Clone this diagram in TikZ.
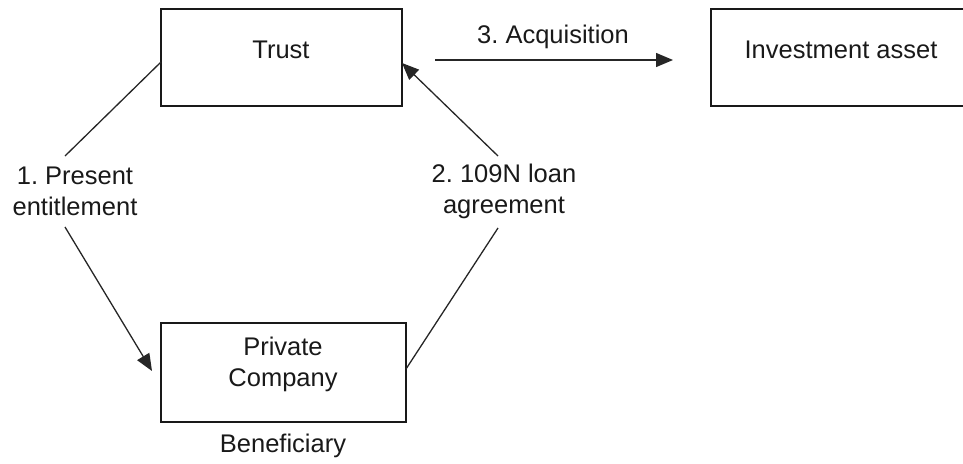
\documentclass[tikz,border=0pt]{standalone}
\usepackage{fontspec}
\setmainfont{Liberation Sans}
\usetikzlibrary{arrows.meta}
\frenchspacing
\begin{document}
\begin{tikzpicture}[x=1pt,y=-1pt,
  box/.style={draw=black!90, line width=1.4pt, minimum width=241pt, minimum height=97pt, inner sep=0pt},
  txt/.style={font=\fontsize{25.5}{31}\selectfont, text=black!90, align=center, inner sep=0pt},
  conn/.style={draw=black!85, line width=1.3pt},
  arr/.style={conn, -{Triangle[length=17pt,width=14pt]}}]
\useasboundingbox (0,0) rectangle (963,463);
\begin{scope}
\clip (0,0) rectangle (963,463);
% boxes
\node[box] (trust) at (281.5,57.5) {};
\node[box, minimum width=258pt] (invest) at (840,57.5) {};
\node[box, minimum width=245pt, minimum height=99pt] (company) at (283.5,372.5) {};
\end{scope}
% texts
\node[txt] (trustlbl) at (281,50) {Trust};
\node[txt] (investlbl) at (841,50) {Investment asset};
\node[txt] (companylbl) at (283,364) {Private\\Company};
\node[txt] (benef) at (283,446) {Beneficiary};
\node[txt] (l1) at (75,191) {1. Present\\entitlement};
\node[txt] (l2) at (504,191) {2. 109N loan\\agreement};
\node[txt] (l3) at (553,37) {3. Acquisition};
% connector end points
\coordinate (a1s) at (161,62);
\coordinate (a1e) at (65,156);
\coordinate (b1s) at (65,227);
\coordinate (b1e) at (152,371);
\coordinate (a2s) at (406,369);
\coordinate (a2e) at (498,228);
\coordinate (b2s) at (498,156);
\coordinate (b2e) at (402,63);
\coordinate (a3s) at (435,60);
\coordinate (a3e) at (673,60);
% connectors
\draw[conn] (a1s) -- (a1e);
\draw[arr] (b1s) -- (b1e);
\draw[conn] (a2s) -- (a2e);
\draw[arr] (b2s) -- (b2e);
\draw[arr] (a3s) -- (a3e);
\end{tikzpicture}
\end{document}
